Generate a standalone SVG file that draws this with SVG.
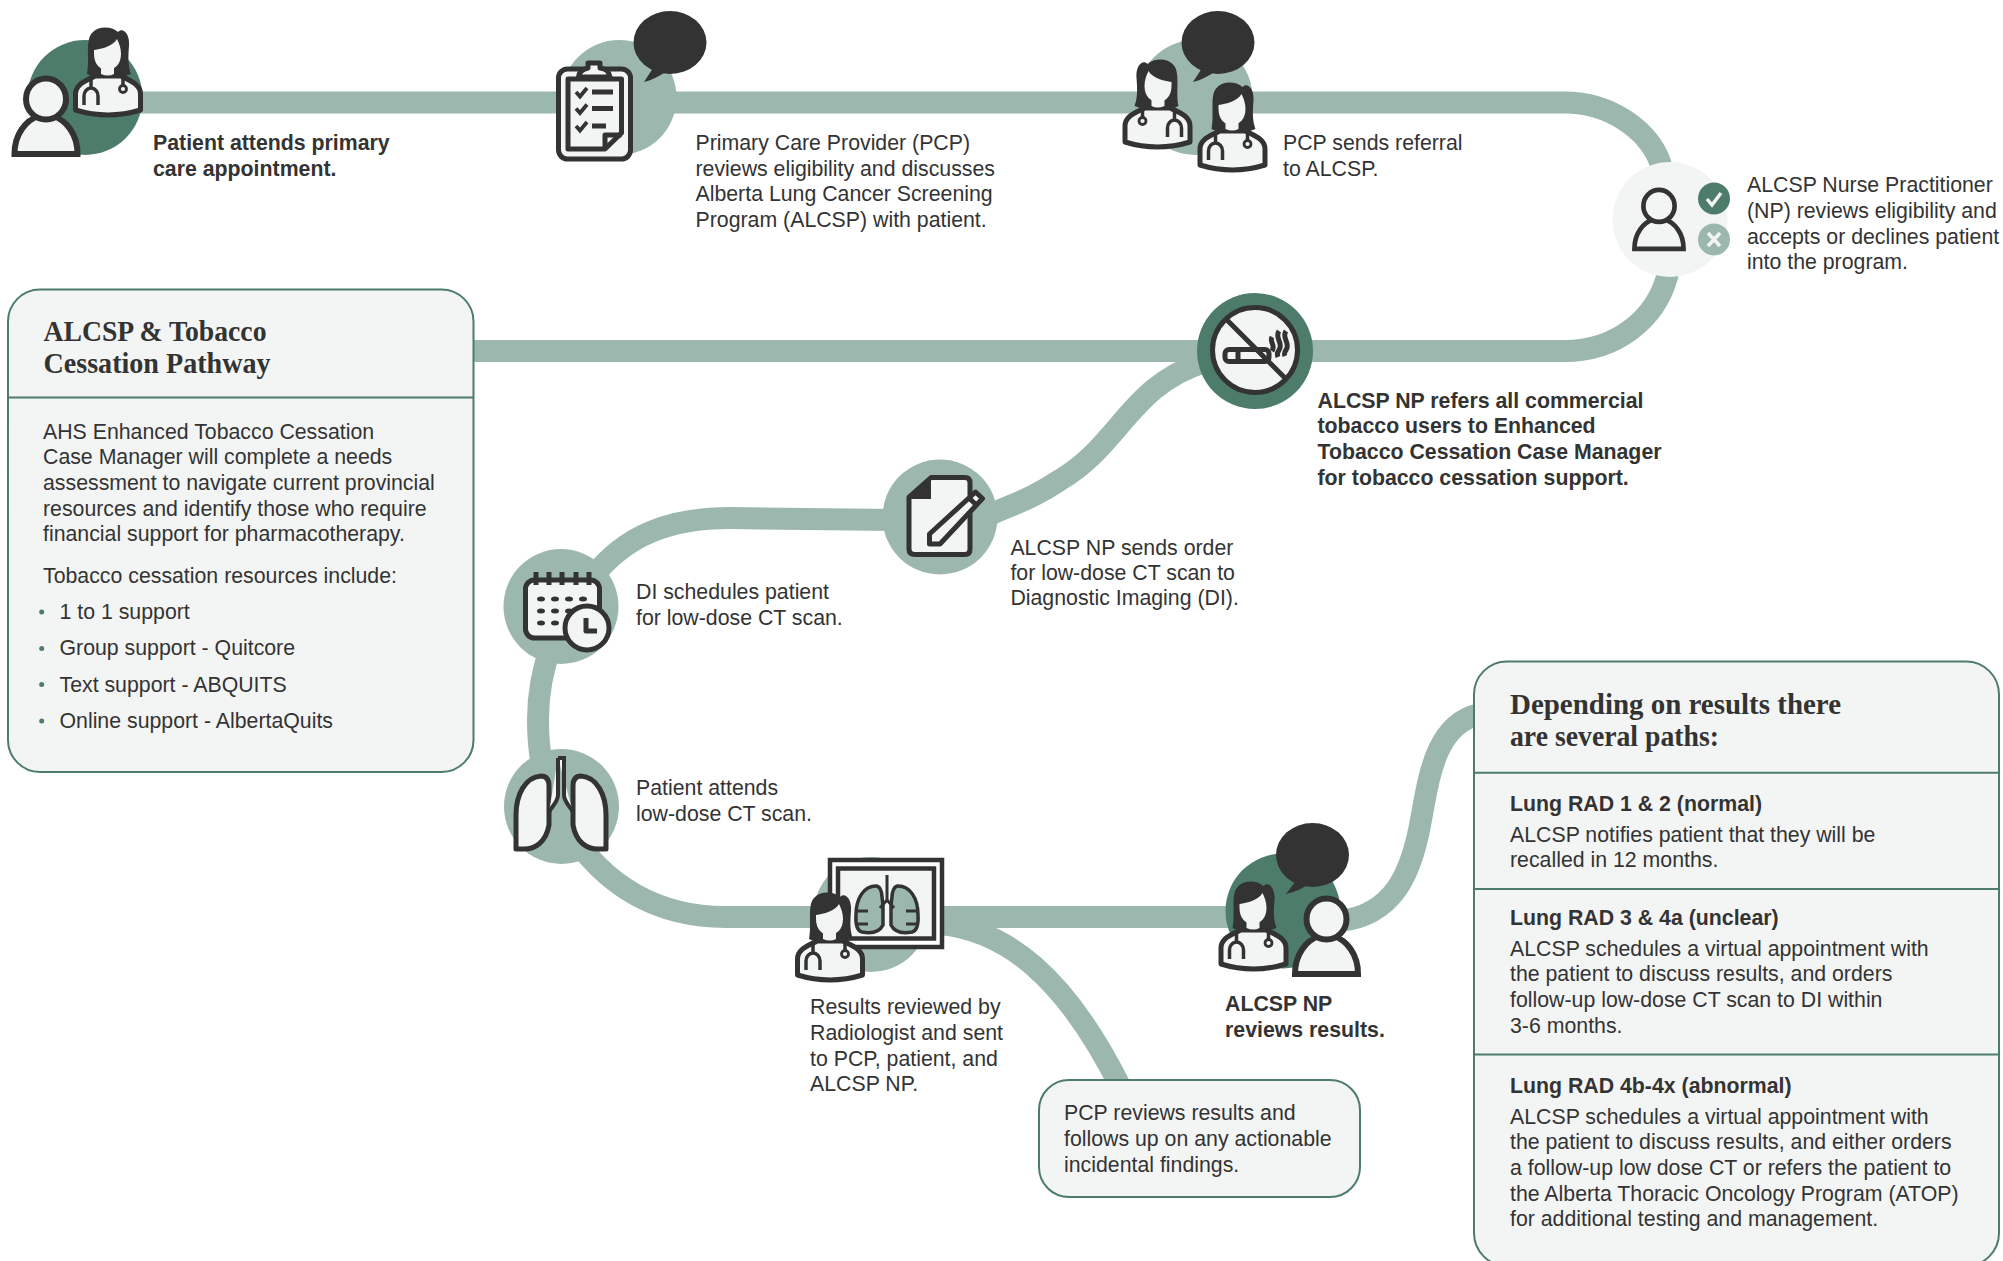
<svg xmlns="http://www.w3.org/2000/svg" xmlns:xlink="http://www.w3.org/1999/xlink" width="2003" height="1261" viewBox="0 0 2003 1261">
<style>
text{font-family:"Liberation Sans",Arial,sans-serif;font-size:21.3px;fill:#333333}
.b{font-weight:bold}
.h{font-family:"Liberation Serif","Times New Roman",serif;font-weight:bold;font-size:29px}
.track{fill:none;stroke:#9cb8ae;stroke-width:22}
.ln{fill:#f3f5f4;stroke:#333333;stroke-width:5;stroke-linejoin:round}
.pn{fill:#f3f5f4;stroke:#333333;stroke-width:6}
.l0{fill:none;stroke:#333333;stroke-width:5;stroke-linejoin:round}
.box{fill:#f3f5f4;stroke:#4d7c6b;stroke-width:2}
.div{stroke:#4d7c6b;stroke-width:2}
.mid{fill:#9cb8ae}.dk{fill:#4d7c6b}.ink{fill:#333333}.pale{fill:#f3f5f4}
</style>
<defs>
<g id="doc">
<path class="ln" d="M-32.500 82V66C-32.500 56-22 53-13 48H13C22 53 32.500 56 32.500 66V82Q0 92-32.500 82Z"/>
<path class="ink" d="M-21 46C-18 32-23 12-16 5C-10-2 3-2 10 4C15-1 22 6 21 18C20 30 20 38 23 46L12 50H-12Z"/>
<path class="pale" d="M-14 22C-6 21 5 18 9 11C11 15 13 20 13 26C13 36 7 42-1 42C-8 42-14 36-14 26Z"/>
<path class="pale" d="M-7 40H6V46Q0 49-7 46Z"/>
<path d="M-17 51V60M-24 77V68A7 8 0 0 1-10 68V77M15 49V58" fill="none" stroke="#333333" stroke-width="3.500"/>
<circle cx="15" cy="61" r="3.500" fill="#f3f5f4" stroke="#333333" stroke-width="2.800"/>
</g>
<g id="person">
<path class="pn" d="M-31.500 78C-31.500 58-20 44-7 40H7C20 44 31.500 58 31.500 78Z"/>
<ellipse class="pn" cx="0" cy="23" rx="20" ry="20.500"/>
</g>
<g id="lung">
<path class="ln" d="M516 849V815C516 795 525 777 541 776C547 776 549 780 549 786V825C546 842 535 850 522 849Z"/>
<path class="ln" d="M606 849V815C606 795 597 777 581 776C575 776 573 780 573 786V825C576 842 587 850 600 849Z"/>
<path d="M558 758H564V795C564 802 570 806 573 812M558 758V795C558 802 552 806 549 812" fill="#f3f5f4" stroke="#333333" stroke-width="4"/>
</g>
</defs>

<g id="connectors">
<path class="track" d="M85 102.500H1565C1610 102.500 1648 130 1660 162C1672 195 1675 250 1667 277C1655 320 1615 351 1565 351H470"/>
<path class="track" d="M1205 362C1130 385 1120 445 1060 480C1030 500 1015 503 985 517"/>
<path class="track" d="M895 520L730 518C670 518 625 535 592 578C555 620 538 670 538 720C538 760 545 790 566 826C600 880 650 917 726 917H1290"/>
<path class="track" d="M940 924C1005 930 1065 975 1122 1090"/>
<path class="track" d="M1340 921C1395 915 1410 870 1418 835C1428 790 1430 725 1480 714"/>
</g>

<g id="n1">
<circle class="dk" cx="85" cy="97.500" r="57.500"/>
<use xlink:href="#doc" href="#doc" transform="translate(108 28)"/>
<use xlink:href="#person" href="#person" transform="translate(46 76)"/>
<text class="b" x="153" y="150">Patient attends primary</text>
<text class="b" x="153" y="175.700">care appointment.</text>
</g>

<g id="n2">
<circle class="mid" cx="619" cy="97.500" r="57.500"/>
<rect class="ln" x="558.500" y="69" width="72" height="90" rx="9"/>
<path class="ln" d="M578.500 77C579 71 584 69 588 68V63H600V68C606 69 609 71 610 77Z" stroke-width="4"/>
<path class="ln" d="M568 79H621.500V133L605 149H568Z"/>
<path class="l0" d="M605 149V135H621.500" stroke-width="4"/>
<path class="l0" d="M592 92H613M592 108.500H613M592 126H606" stroke-width="4"/>
<path d="M576 92L580 96.500L587 88M576 108.500L580 113L587 104.500M576 126L580 130.500L587 122" fill="none" stroke="#333333" stroke-width="3.800"/>
<ellipse class="ink" cx="670" cy="42.500" rx="36.500" ry="31.500"/>
<path class="ink" d="M655 65L644 82C652 80 660 76 668 70Z"/>
<text x="695.500" y="150">Primary Care Provider (PCP)</text>
<text x="695.500" y="175.500">reviews eligibility and discusses</text>
<text x="695.500" y="201">Alberta Lung Cancer Screening</text>
<text x="695.500" y="226.700">Program (ALCSP) with patient.</text>
</g>

<g id="n3">
<circle class="mid" cx="1195" cy="97.500" r="57.500"/>
<ellipse class="ink" cx="1218" cy="42.500" rx="36.500" ry="31.500"/>
<path class="ink" d="M1204 65L1193 82C1201 80 1209 76 1217 70Z"/>
<use xlink:href="#doc" href="#doc" transform="translate(1157.500 60) scale(-1 1)"/>
<use xlink:href="#doc" href="#doc" transform="translate(1232.500 83)"/>
<text x="1283" y="150">PCP sends referral</text>
<text x="1283" y="175.700">to ALCSP.</text>
</g>

<g id="n4">
<circle class="pale" cx="1670" cy="219.500" r="57.500"/>
<use xlink:href="#person" href="#person" transform="translate(1659 188) scale(.78)"/>
<circle class="dk" cx="1714" cy="198.500" r="16"/>
<path d="M1707 199L1712 205L1721 193" fill="none" stroke="#f3f5f4" stroke-width="3.500"/>
<circle class="mid" cx="1714" cy="239.500" r="16"/>
<path d="M1708 233L1720 246M1720 233L1708 246" fill="none" stroke="#f3f5f4" stroke-width="3.500"/>
<text x="1747" y="192">ALCSP Nurse Practitioner</text>
<text x="1747" y="218">(NP) reviews eligibility and</text>
<text x="1747" y="243.500">accepts or declines patient</text>
<text x="1747" y="269">into the program.</text>
</g>

<g id="n5">
<circle class="dk" cx="1255" cy="351" r="58"/>
<circle class="ln" cx="1255" cy="350" r="42.500"/>
<rect class="ln" x="1225" y="349.500" width="44" height="12" rx="4" stroke-width="3.800"/>
<path class="l0" d="M1238 349.500V361.500" stroke-width="3"/>
<path class="l0" d="M1227 320L1285 378"/>
<path class="l0" d="M1272 337C1269 342 1276 345 1272 351M1279 331C1274 338 1284 343 1279 350C1277 353 1277 355 1278 357M1286 331C1281 338 1291 343 1286 350C1284 353 1284 354 1285 356" stroke-width="3.200"/>
<text class="b" x="1317.500" y="407.700">ALCSP NP refers all commercial</text>
<text class="b" x="1317.500" y="433">tobacco users to Enhanced</text>
<text class="b" x="1317.500" y="459">Tobacco Cessation Case Manager</text>
<text class="b" x="1317.500" y="484.500">for tobacco cessation support.</text>
</g>

<g id="n6">
<circle class="mid" cx="940" cy="517" r="57.500"/>
<path class="ln" d="M909 497L931 477.500H965Q970 477.500 970 483V549Q970 554.500 965 554.500H915Q909 554.500 909 549Z"/>
<path class="ink" d="M909 497L931 477.500V499H909Z"/>
<path class="ln" d="M929.500 544V534L975.500 492L982.500 498.500L940 544Z" stroke-width="4.500"/>
<path class="l0" d="M969 498L977 505.500" stroke-width="3.500"/>
<text x="1010.400" y="555">ALCSP NP sends order</text>
<text x="1010.400" y="580">for low-dose CT scan to</text>
<text x="1010.400" y="605">Diagnostic Imaging (DI).</text>
</g>

<g id="n7">
<circle class="mid" cx="561" cy="606.500" r="57.500"/>
<rect class="ln" x="525.500" y="580" width="74" height="58" rx="9" stroke-width="4.500"/>
<path class="l0" d="M536 572V585M549 572V585M562 572V585M576 572V585M589 572V585" stroke-width="3.800"/>
<g class="ink">
<ellipse cx="541" cy="599" rx="4" ry="2.500"/><ellipse cx="555" cy="599" rx="4" ry="2.500"/><ellipse cx="569" cy="599" rx="4" ry="2.500"/><ellipse cx="583" cy="599" rx="4" ry="2.500"/>
<ellipse cx="541" cy="611" rx="4" ry="2.500"/><ellipse cx="555" cy="611" rx="4" ry="2.500"/><ellipse cx="569" cy="611" rx="4" ry="2.500"/>
<ellipse cx="541" cy="623" rx="4" ry="2.500"/><ellipse cx="555" cy="623" rx="4" ry="2.500"/>
</g>
<circle class="ln" cx="587" cy="628" r="22"/>
<path class="l0" d="M586 618V631H597"/>
<text x="636" y="599.300">DI schedules patient</text>
<text x="636" y="625">for low-dose CT scan.</text>
</g>

<g id="n8">
<circle class="mid" cx="561.500" cy="806.500" r="57.500"/>
<use xlink:href="#lung" href="#lung"/>
<text x="636" y="795">Patient attends</text>
<text x="636" y="820.700">low-dose CT scan.</text>
</g>

<g id="n9">
<circle class="mid" cx="871" cy="914.500" r="57.500"/>
<rect x="830" y="860" width="112" height="87" fill="#fff" stroke="#333333" stroke-width="4.500"/>
<rect x="838" y="868.500" width="96" height="70" fill="#f3f5f4" stroke="#333333" stroke-width="4.500"/>
<path d="M883 905V925Q878 935 862 932Q855 930 856 915C856 898 864 886 876 886C880 886 882 892 882 897ZM891 905V925Q896 935 912 932Q919 930 918 915C918 898 910 886 898 886C894 886 892 892 892 897Z" fill="#9cb8ae" stroke="#333333" stroke-width="3.500"/>
<path d="M887 875V900L880 908M887 900L894 908M857 911H868M857 924H868M917 911H906M917 924H906" fill="none" stroke="#333333" stroke-width="3"/>
<use xlink:href="#doc" href="#doc" transform="translate(830 893)"/>
<text x="810" y="1014">Results reviewed by</text>
<text x="810" y="1040">Radiologist and sent</text>
<text x="810" y="1065.500">to PCP, patient, and</text>
<text x="810" y="1091">ALCSP NP.</text>
</g>

<g id="n10">
<circle class="dk" cx="1283" cy="911" r="57.500"/>
<ellipse class="ink" cx="1312.500" cy="855" rx="36.500" ry="32"/>
<path class="ink" d="M1298 878L1286 894C1295 892 1303 888 1311 883Z"/>
<use xlink:href="#doc" href="#doc" transform="translate(1253.500 882)"/>
<use xlink:href="#person" href="#person" transform="translate(1326.500 896)"/>
<text class="b" x="1225" y="1010.700">ALCSP NP</text>
<text class="b" x="1225" y="1036.700">reviews results.</text>
</g>

<g id="tobacco-box">
<rect class="box" x="8" y="289.500" width="465.500" height="482.500" rx="32"/>
<path class="div" d="M8 397.500H473.500"/>
<text class="h" x="43.500" y="341" textLength="223" lengthAdjust="spacingAndGlyphs">ALCSP &amp; Tobacco</text>
<text class="h" x="43.500" y="373" textLength="227" lengthAdjust="spacingAndGlyphs">Cessation Pathway</text>
<text x="43" y="439">AHS Enhanced Tobacco Cessation</text>
<text x="43" y="464.300">Case Manager will complete a needs</text>
<text x="43" y="490.300">assessment to navigate current provincial</text>
<text x="43" y="516">resources and identify those who require</text>
<text x="43" y="541.300">financial support for pharmacotherapy.</text>
<text x="43" y="582.700">Tobacco cessation resources include:</text>
<g class="dk"><circle cx="41.700" cy="612" r="2.500"/><circle cx="41.700" cy="648.500" r="2.500"/><circle cx="41.700" cy="684.500" r="2.500"/><circle cx="41.700" cy="721" r="2.500"/></g>
<text x="59.500" y="618.700">1 to 1 support</text>
<text x="59.500" y="655">Group support - Quitcore</text>
<text x="59.500" y="691.700">Text support - ABQUITS</text>
<text x="59.500" y="727.700">Online support - AlbertaQuits</text>
</g>

<g id="pcp-box">
<rect class="box" x="1039" y="1080" width="321" height="117" rx="30"/>
<text x="1064" y="1120">PCP reviews results and</text>
<text x="1064" y="1146">follows up on any actionable</text>
<text x="1064" y="1171.500">incidental findings.</text>
</g>

<g id="paths-box">
<rect class="box" x="1474" y="661.500" width="525" height="604.500" rx="33"/>
<path class="div" d="M1474 772.800H1999M1474 888.900H1999M1474 1054.500H1999"/>
<text class="h" x="1510" y="714.300" textLength="331" lengthAdjust="spacingAndGlyphs">Depending on results there</text>
<text class="h" x="1510" y="746.300" textLength="209" lengthAdjust="spacingAndGlyphs">are several paths:</text>
<text class="b" x="1510" y="811">Lung RAD 1 &amp; 2 (normal)</text>
<text x="1510" y="841.700">ALCSP notifies patient that they will be</text>
<text x="1510" y="867">recalled in 12 months.</text>
<text class="b" x="1510" y="925">Lung RAD 3 &amp; 4a (unclear)</text>
<text x="1510" y="956">ALCSP schedules a virtual appointment with</text>
<text x="1510" y="981.300">the patient to discuss results, and orders</text>
<text x="1510" y="1007">follow-up low-dose CT scan to DI within</text>
<text x="1510" y="1033">3-6 months.</text>
<text class="b" x="1510" y="1093">Lung RAD 4b-4x (abnormal)</text>
<text x="1510" y="1124.300">ALCSP schedules a virtual appointment with</text>
<text x="1510" y="1149.200">the patient to discuss results, and either orders</text>
<text x="1510" y="1175.300">a follow-up low dose CT or refers the patient to</text>
<text x="1510" y="1201">the Alberta Thoracic Oncology Program (ATOP)</text>
<text x="1510" y="1226">for additional testing and management.</text>
</g>
</svg>
